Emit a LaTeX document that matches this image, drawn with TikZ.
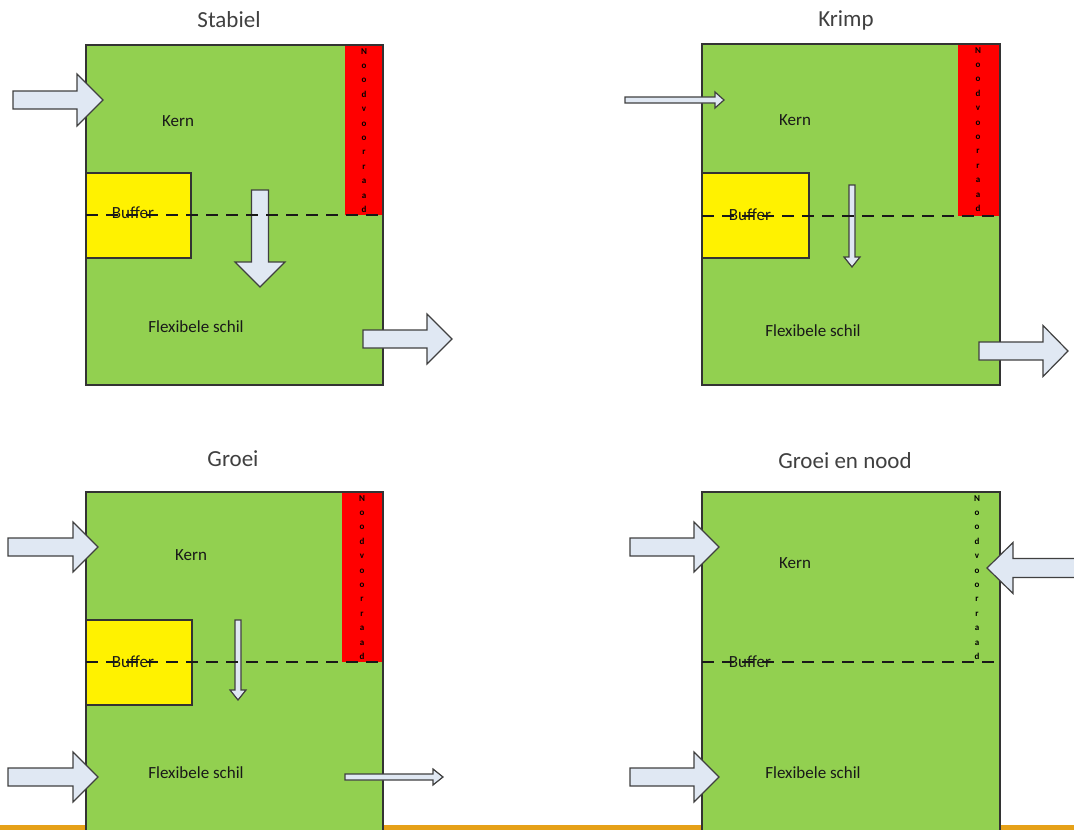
\documentclass[tikz,border=0pt]{standalone}
\usepackage{fontspec}
\setmainfont{Carlito}
\definecolor{kerngreen}{HTML}{92D050}
\definecolor{pijlblue}{HTML}{E0E8F3}
\definecolor{streep}{HTML}{E6A118}
\tikzset{
  box/.style={draw=black!80, line width=1.4pt, fill=kerngreen},
  bufferbox/.style={draw=black!80, line width=1.4pt, fill=yellow},
  noodbox/.style={fill=red},
  grens/.style={line width=1.8pt, black!90, dash pattern=on 12pt off 8pt},
  pijl/.style={draw=black!75, line width=1.2pt, fill=pijlblue},
  label/.style={font=\fontsize{17}{20}\selectfont, text=black!90},
  titel/.style={font=\fontsize{23}{26}\selectfont, text=black!75},
  letter/.style={font=\fontsize{9}{10}\selectfont\bfseries, anchor=base, inner sep=0pt}
}
% tail x, tail y, angle, length, shaft half width, head half width, head length
\newcommand{\flowarrow}[7]{\draw[pijl, shift={(#1,#2)}, rotate=#3] (0,-#5) -- (#4-#7,-#5) -- (#4-#7,-#6) -- (#4,0) -- (#4-#7,#6) -- (#4-#7,#5) -- (0,#5) -- cycle;}
\begin{document}
\begin{tikzpicture}[x=1pt,y=-1pt]
        \clip (0,0) rectangle (1074,830);
        %orange line at the bottom
        \fill[streep] (0,825) rectangle (1074,830);

        %Stabiel
        \node[titel] (titelA) at (229,20) {Stabiel};
        \draw[box] (86,45) rectangle (383,385);
        \draw[bufferbox] (86,173) rectangle (191,258);
        \fill[noodbox] (345,46) rectangle (382,215);
        \foreach \l [count=\i] in {N,o,o,d,v,o,o,r,r,a,a,d}
            \node[letter] (noodA\i) at (364,{54+14.4*(\i-1)}) {\l};
        \node[label] (kernA) at (178,121) {Kern};
        \node[label] (bufferA) at (133,213) {Buffer};
        \node[label] (schilA) at (196,327) {Flexibele schil};
        \flowarrow{13}{100}{0}{90}{9}{26}{26}
        \flowarrow{260}{190}{-90}{97}{8.5}{25}{25}
        \flowarrow{363}{339}{0}{89}{9}{25}{25}
        \draw[grens] (86,215) -- (383,215);

        %Krimp
        \node[titel] (titelB) at (846,20) {Krimp};
        \draw[box] (702,44) rectangle (1000,385);
        \draw[bufferbox] (702,173) rectangle (809,258);
        \fill[noodbox] (958,45) rectangle (999,216);
        \foreach \l [count=\i] in {N,o,o,d,v,o,o,r,r,a,a,d}
            \node[letter] (noodB\i) at (978,{53+14.4*(\i-1)}) {\l};
        \node[label] (kernB) at (795,120) {Kern};
        \node[label] (bufferB) at (750,215) {Buffer};
        \node[label] (schilB) at (813,331) {Flexibele schil};
        \flowarrow{625}{100}{0}{99}{3}{8}{9}
        \flowarrow{852}{185}{-90}{82}{3}{8}{10}
        \flowarrow{979}{351}{0}{89}{9}{25.5}{25}
        \draw[grens] (702,216) -- (1000,216);

        %Groei
        \node[titel] (titelC) at (233,459) {Groei};
        \draw[box] (86,492) rectangle (383,850);
        \draw[bufferbox] (86,620) rectangle (192,705);
        \fill[noodbox] (342,493) rectangle (382,662);
        \foreach \l [count=\i] in {N,o,o,d,v,o,o,r,r,a,a,d}
            \node[letter] (noodC\i) at (362,{501+14.4*(\i-1)}) {\l};
        \node[label] (kernC) at (191,555) {Kern};
        \node[label] (bufferC) at (133,662) {Buffer};
        \node[label] (schilC) at (196,773) {Flexibele schil};
        \flowarrow{8}{547}{0}{90}{9}{25}{25}
        \flowarrow{8}{777}{0}{90}{9}{25}{25}
        \flowarrow{238}{620}{-90}{80}{3}{8}{10}
        \flowarrow{345}{777}{0}{98}{3}{8}{10}
        \draw[grens] (86,662) -- (383,662);

        %Groei en nood
        \node[titel] (titelD) at (845,461) {Groei en nood};
        \draw[box] (702,492) rectangle (1000,850);
        \foreach \l [count=\i] in {N,o,o,d,v,o,o,r,r,a,a,d}
            \node[letter] (noodD\i) at (977,{501+14.4*(\i-1)}) {\l};
        \node[label] (kernD) at (795,563) {Kern};
        \node[label] (bufferD) at (750,662) {Buffer};
        \node[label] (schilD) at (813,773) {Flexibele schil};
        \flowarrow{630}{547}{0}{89}{9}{25}{25}
        \flowarrow{630}{777}{0}{89}{9}{25}{25}
        \flowarrow{1090}{568}{180}{103}{9.5}{25.5}{26}
        \draw[grens] (702,662) -- (1000,662);
    \end{tikzpicture}
\end{document}
